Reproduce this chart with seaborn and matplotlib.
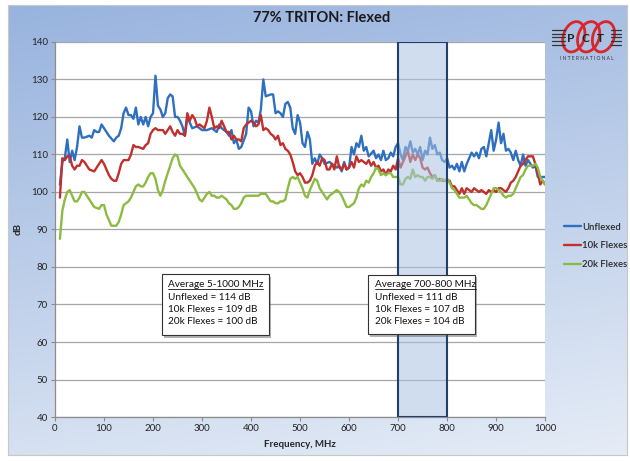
import numpy as np
import pandas as pd
import matplotlib
matplotlib.use("Agg")
import matplotlib.pyplot as plt
import seaborn as sns
from matplotlib.patches import Rectangle, Ellipse
from matplotlib.colors import LinearSegmentedColormap

# ---- data ----
unflexed_f = [10, 15, 20, 25, 30, 35, 40, 45, 50, 55, 60, 70, 75, 80, 85, 90, 95,
              100, 110, 120, 125, 130, 135, 140, 145, 150, 155, 160, 165, 170, 175, 180, 185, 190, 195,
              200, 205, 210, 215, 220, 225, 230, 235, 240, 245, 250, 255, 260, 265, 270, 275, 280, 290,
              300, 310, 320, 330, 335, 340, 350, 355, 360, 365, 370, 375, 380, 390, 395,
              400, 405, 410, 415, 420, 425, 430, 440, 445, 450, 455, 460, 465, 470, 475, 480, 485, 490, 495,
              500, 505, 510, 515, 520, 525, 530, 535, 540, 545, 550, 560, 570, 575, 580, 585, 590, 595,
              600, 605, 610, 615, 620, 625, 630, 635, 640, 650, 655, 660, 665, 670, 675, 680, 685, 690, 695,
              700, 705, 710, 715, 720, 725, 730, 735, 740, 745, 750, 755, 760, 765, 770, 775, 780, 785, 790, 795,
              800, 805, 810, 815, 820, 825, 830, 835, 840, 845, 850, 855, 860, 865, 870, 875, 880, 885, 890, 895,
              900, 905, 910, 915, 920, 925, 930, 935, 940, 945, 950, 955, 960, 965, 970, 975, 980, 985, 990, 1000]
unflexed_db = [102, 108, 109, 114, 108, 111, 108.5, 112, 117.5, 114.5, 114.5, 115, 114.5, 116.5, 116, 116, 118,
               117, 115, 113.5, 114.5, 115, 117, 121, 122.5, 120.5, 120.5, 119.5, 122.5, 118, 120, 118, 120, 117.5, 120,
               121, 131, 123, 122, 120, 121, 125, 126, 125.5, 120, 120, 119, 117.5, 115, 120, 118.5, 117, 117.5,
               116.5, 116.5, 117, 116, 118, 117, 116, 115, 116.5, 113, 114, 111.5, 112, 115.5, 122.5,
               121.5, 117.5, 119, 118.5, 122, 130, 125.5, 126, 126, 121, 121.5, 121, 120, 123.5, 124, 122.5, 117, 115.5, 120.5,
               118.5, 113, 112, 116, 114, 107.5, 109, 107.5, 110, 109, 107.5, 108, 107, 106.5, 107, 105.5, 108, 106,
               106.5, 112, 110, 113, 112, 115, 111, 112, 109.5, 111, 109, 110, 108.5, 111, 108.5, 109, 110.5, 109.5, 112,
               113, 110, 108.5, 112, 111, 113.5, 110.5, 111.5, 110, 112, 108.5, 111, 110, 114.5, 111.5, 112.5, 110, 110.5, 108.5, 108,
               109, 106.5, 107, 106, 107.5, 105.5, 108, 105.5, 107.5, 109, 110.5, 109.5, 110.5, 109, 111.5, 112, 109.5, 113, 116.5, 111,
               114, 118.5, 113, 115.5, 111, 111.5, 110.5, 108.5, 111, 108.5, 107, 110, 107, 108.5, 107.5, 106.5, 107, 104, 104, 104]

flex10k_f = [10, 15, 20, 25, 30, 35, 40, 45, 50, 55, 60, 65, 70, 80, 85, 90, 95,
             100, 105, 110, 115, 120, 125, 130, 135, 140, 145, 150, 155, 160, 165, 170, 180, 185, 190, 195,
             200, 205, 210, 220, 225, 230, 235, 240, 245, 250, 255, 260, 265, 270, 275, 280, 285, 290, 295,
             300, 305, 310, 315, 320, 325, 330, 335, 340, 345, 350, 355, 360, 365, 370, 375, 380, 385, 390, 395,
             400, 405, 410, 415, 420, 425, 430, 435, 440, 445, 450, 455, 460, 465, 470, 475, 480, 485, 490, 495,
             500, 505, 510, 515, 520, 525, 530, 535, 540, 545, 550, 555, 560, 565, 570, 575, 580, 585, 590, 595,
             600, 605, 610, 615, 620, 625, 630, 635, 640, 645, 650, 655, 660, 665, 670, 675, 680, 685, 690, 695,
             700, 705, 710, 715, 720, 725, 730, 735, 740, 745, 750, 755, 760, 765, 770, 775, 780, 785, 790, 795,
             800, 805, 810, 815, 820, 825, 830, 835, 840, 845, 850, 855, 860, 865, 870, 875, 880, 885, 890, 895,
             900, 905, 910, 915, 920, 925, 930, 935, 940, 945, 950, 955, 960, 965, 970, 975, 980, 985, 990, 995, 1000]
flex10k_db = [98.5, 109, 108.5, 109.5, 109.5, 107, 106, 107, 107, 108.5, 108, 107, 106, 105.5, 106.5, 107.5, 108.5,
              107.5, 106, 104.5, 103.5, 103, 103, 105, 107.5, 108.5, 108.5, 108.5, 110, 112.5, 112, 112, 111.5, 112.5, 113, 115.5,
              116.5, 117, 116.5, 116.5, 115.5, 116.5, 117.5, 116, 115, 116.5, 115.5, 115.5, 115, 121, 119, 120.5, 119.5, 117.5, 118,
              117.5, 117, 119, 122.5, 120, 117, 117.5, 117, 119, 117.5, 116, 116, 114, 115, 114, 114, 113.5, 117, 118, 118.5,
              119, 118.5, 117.5, 118, 120.5, 116.5, 117, 116.5, 115.5, 115, 114, 115, 112.5, 113, 111.5, 111, 110, 108, 105.5, 104.5,
              105, 104, 102.5, 102.5, 103, 104.5, 107, 108, 107, 109, 108.5, 106, 106, 107.5, 106, 109.5, 106.5, 106, 107.5, 106,
              106.5, 108, 106.5, 109.5, 108, 108.5, 108, 107.5, 108.5, 107, 108, 106.5, 107, 105.5, 106, 104.5, 106, 105.5, 107, 106,
              109, 106.5, 108, 109.5, 111, 108, 110, 108.5, 110, 109, 106.5, 106, 106.5, 105, 104, 104.5, 103, 103.5, 103, 103,
              103, 103, 101.5, 101.5, 100.5, 99.5, 101, 99.5, 101, 100.5, 100, 101, 100.5, 100, 100.5, 100, 99.5, 100.5, 100, 100.5,
              100, 101, 101, 100.5, 100, 101, 102.5, 103, 104, 105.5, 107, 107.5, 108.5, 109.5, 109.5, 109.5, 107.5, 105, 102, 103, 102]

flex20k_f = [10, 15, 20, 25, 30, 35, 40, 45, 50, 55, 60, 65, 70, 80, 90, 95,
             100, 105, 110, 115, 120, 125, 130, 135, 140, 145, 150, 155, 160, 165, 170, 175, 180, 185, 190, 195,
             200, 205, 210, 215, 220, 225, 230, 235, 240, 245, 250, 255, 260, 265, 270, 275, 280, 285, 290, 295,
             300, 305, 310, 315, 320, 325, 330, 335, 340, 345, 350, 355, 360, 365, 370, 375, 380, 385, 390, 395,
             400, 405, 410, 415, 420, 425, 430, 435, 440, 445, 450, 455, 460, 465, 470, 475, 480, 485, 490, 495,
             500, 505, 510, 515, 520, 525, 530, 535, 540, 545, 550, 555, 560, 565, 570, 575, 580, 585, 590, 595,
             600, 605, 610, 615, 620, 625, 630, 635, 640, 645, 650, 655, 660, 665, 670, 675, 680, 685, 690, 695,
             700, 705, 710, 715, 720, 725, 730, 735, 740, 745, 750, 755, 760, 765, 770, 775, 780, 785, 790, 795,
             800, 805, 810, 815, 820, 825, 830, 835, 840, 845, 850, 855, 860, 865, 870, 875, 880, 885, 890, 895,
             900, 905, 910, 915, 920, 925, 930, 935, 940, 945, 950, 955, 960, 965, 970, 975, 980, 985, 990, 995, 1000]
flex20k_db = [87.5, 95, 98, 100, 100.5, 99, 97.5, 97.5, 98.5, 100, 100, 99, 98, 96, 95.5, 96.5,
              96.5, 94, 92.5, 91, 91, 91, 92, 94, 96.5, 97, 97.5, 98.5, 100, 101.5, 102, 101.5, 101.5, 102.5, 104, 105,
              105, 103.5, 100.5, 99, 100.5, 103, 105, 107, 109, 110, 109.5, 107, 106, 105, 104, 103, 102, 101, 99.5, 98,
              97.5, 98.5, 99.5, 100, 99, 99, 98.5, 98.5, 99, 98.5, 98, 97, 96.5, 95.5, 95.5, 96, 97, 98.5, 99, 99,
              99, 99, 99, 99, 99.5, 99.5, 99.5, 98.5, 97.5, 97.5, 97, 97, 97.5, 97.5, 98, 101, 103.5, 104, 103.5, 104,
              102.5, 101, 99, 98.5, 100.5, 102, 103.5, 103, 101, 100, 99, 98, 99, 99.5, 100, 100.5, 100, 99, 97.5, 96,
              96, 96.5, 97, 98.5, 101, 102, 101.5, 103, 102.5, 104, 105, 106.5, 106, 104.5, 105, 104.5, 105, 105, 104, 104,
              104, 102, 102, 103.5, 104, 103.5, 106, 104, 104.5, 104, 104, 103, 104, 104, 103.5, 104.5, 103, 103, 103.5, 103,
              103.5, 102.5, 101, 100.5, 99.5, 98.5, 98.5, 98.5, 99, 98, 97, 96.5, 96.5, 96, 95.5, 95.5, 96.5, 98, 99.5, 101,
              101, 100.5, 100, 99, 98.5, 99, 99, 99.5, 101, 102.5, 104, 104.5, 106, 107, 107, 107, 107.5, 106.5, 104, 103, 102]

series_names = ["Unflexed", "10k Flexes", "20k Flexes"]
series_colors = ["#2f6fbf", "#c0302c", "#8cbb42"]

box1_lines = ["Average 5-1000 MHz", "Unflexed = 114 dB", "10k Flexes = 109 dB", "20k Flexes = 100 dB"]
box2_lines = ["Average 700-800 MHz", "Unflexed = 111 dB", "10k Flexes = 107 dB", "20k Flexes = 104 dB"]

df = pd.concat([
    pd.DataFrame({"freq": unflexed_f, "db": unflexed_db, "series": series_names[0]}),
    pd.DataFrame({"freq": flex10k_f, "db": flex10k_db, "series": series_names[1]}),
    pd.DataFrame({"freq": flex20k_f, "db": flex20k_db, "series": series_names[2]}),
], ignore_index=True)

sns.set_theme(style="white")
plt.rcParams['font.family'] = ['Lato', 'DejaVu Sans']

fig = plt.figure(figsize=(6.3, 4.61), dpi=100)
fig.patch.set_facecolor("white")

# gradient backdrop of the chart area
bg = fig.add_axes([0.012, 0.012, 0.984, 0.978], zorder=-10)
yy, xx = np.mgrid[0:1:200j, 0:1:200j]
grad = 0.8 * yy + 0.2 * xx
bg_cmap = LinearSegmentedColormap.from_list("bg", ["#98b3de", "#e5ecf6"])
bg.imshow(grad, cmap=bg_cmap, aspect="auto", extent=[0, 1, 0, 1], origin="upper")
bg.set_xticks([])
bg.set_yticks([])
for s in bg.spines.values():
    s.set_color("#c8c8c8")
    s.set_linewidth(0.8)

ax = fig.add_axes([0.0873, 0.0954, 0.778, 0.8136])
ax.set_facecolor("white")
sns.lineplot(data=df, x="freq", y="db", hue="series", hue_order=series_names,
             palette=dict(zip(series_names, series_colors)), estimator=None,
             sort=True, linewidth=1.7, legend=False, ax=ax)
line_handles = ax.get_lines()[:3]

ax.set_xlim(0, 1000)
ax.set_ylim(40, 140)
ax.set_xticks(range(0, 1001, 100))
ax.set_yticks(range(40, 141, 10))
ax.yaxis.grid(True, color="#a6a6a6", linewidth=0.9)
ax.xaxis.grid(False)
for side in ["top", "right"]:
    ax.spines[side].set_visible(False)
for side in ["left", "bottom"]:
    ax.spines[side].set_color("#8c8c8c")
    ax.spines[side].set_linewidth(0.9)
ax.tick_params(axis="both", which="both", bottom=True, left=True, direction="out",
               length=3, width=0.8, color="#8c8c8c", labelsize=7, labelcolor="#222222", pad=2)
ax.set_xlabel("Frequency, MHz", fontsize=7, fontweight="bold", labelpad=5)
ax.set_ylabel("dB", fontsize=7, fontweight="bold", labelpad=6)

# highlighted 700-800 MHz band
ax.add_patch(Rectangle((700, 40), 100, 100, facecolor="#a9c2e2", alpha=0.55,
                       edgecolor="none", zorder=4))
ax.add_patch(Rectangle((700, 40), 100, 100, fill=False, edgecolor="#1f3f73",
                       linewidth=1.5, zorder=4.5))

# annotation boxes
def note_box(x0, x1, y0, y1, lines, tx):
    ax.add_patch(Rectangle((x0 + 4, y0 - 0.7), x1 - x0, y1 - y0, facecolor="#555555",
                           alpha=0.45, edgecolor="none", zorder=5))
    ax.add_patch(Rectangle((x0, y0), x1 - x0, y1 - y0, facecolor="white",
                           edgecolor="#333333", linewidth=0.8, zorder=6))
    texts = []
    for i, s in enumerate(lines):
        texts.append(ax.text(tx, 75.2 - 3.25 * i, s, fontsize=7.2, va="center",
                             ha="left", color="#111111", zorder=7))
    return texts[0]

head1 = note_box(218, 437, 61.8, 78.1, box1_lines, 230)
head2 = note_box(639, 857, 62.1, 77.9, box2_lines, 652)

# legend to the right of the plot
ax.legend(line_handles, series_names, loc="center left", bbox_to_anchor=(1.03, 0.456),
          frameon=False, handlelength=1.8, handletextpad=0.15,
          labelspacing=1.05, borderaxespad=0, prop={"size": 6.8, "weight": "semibold"})

fig.text(0.51, 0.962, "77% TRITON: Flexed", ha="center", va="center",
         fontsize=10.5, fontweight="bold", color="#1a1a1a")

# PCT International logo
logo = fig.add_axes([0.875, 0.86, 0.112, 0.098])
logo.set_xlim(0, 10)
logo.set_ylim(0, 7)
logo.axis("off")
for yl in [3.0, 3.6, 4.2, 4.8, 5.4]:
    logo.plot([0.1, 1.9], [yl, yl], color="#333333", lw=0.9)
    logo.plot([8.4, 9.9], [yl, yl], color="#333333", lw=0.9)
for cx, letter in zip([3.2, 5.3, 7.4], ["P", "C", "T"]):
    logo.add_patch(Ellipse((cx, 4.3), 3.0, 4.8, angle=-15, fill=False,
                           edgecolor="#d8262a", linewidth=2.0))
    logo.text(cx - 0.4, 4.1, letter, fontsize=8.5, ha="center", va="center",
              color="#222222", fontweight="bold")
logo.text(5.0, 0.9, "I N T E R N A T I O N A L", fontsize=3.5, ha="center",
          va="center", color="#333333")

# underline the box headings
fig.canvas.draw()
inv = ax.transData.inverted()
for t in [head1, head2]:
    bb = t.get_window_extent().transformed(inv)
    ax.plot([bb.x0, bb.x1], [bb.y0 + 0.15, bb.y0 + 0.15], color="#111111",
            linewidth=0.6, zorder=7)

fig.savefig("out.png", dpi=100)
